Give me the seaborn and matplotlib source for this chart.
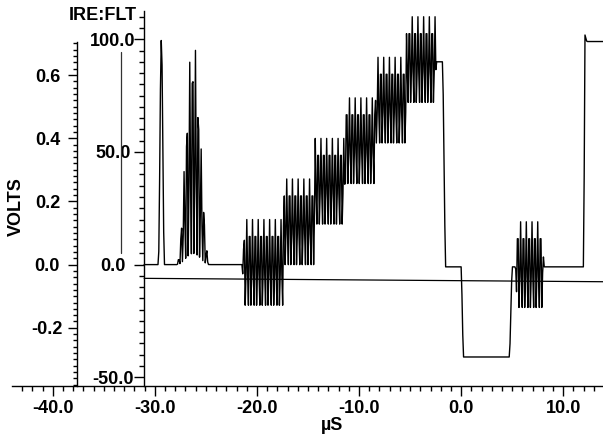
import numpy as np
import pandas as pd
import matplotlib
matplotlib.use('Agg')
import matplotlib.pyplot as plt
import seaborn as sns
from matplotlib.ticker import FixedLocator, FormatStrFormatter

sns.set_theme(style='white')
plt.rcParams['font.family'] = ['Liberation Sans', 'DejaVu Sans']
plt.rcParams['font.weight'] = 'bold'
plt.rcParams['text.color'] = 'black'
plt.rcParams['axes.unicode_minus'] = False

# ---------------- data (time in µs, level in IRE) ----------------
# luminance knots of the trace
luma_t = [-31.05, -17.43, -17.33, -14.41, -14.31, -11.44, -11.34, -8.42, -8.32,
          -5.41, -5.31, -1.80, -1.55, 0.02, 0.20, 4.75, 4.98, 12.00, 12.12, 12.30, 13.89]
luma_v = [0, 0, 18, 18, 36, 36, 54, 54, 72,
          72, 90, 90, -1, -1, -41, -41, -1, -1, 102, 99, 99]
# chroma (3.58 MHz subcarrier) amplitude knots
chroma_t = [-31.05, -21.45, -21.20, -2.50, -2.40, 5.30, 5.50, 7.90, 8.10, 13.89]
chroma_a = [0, 0, 20, 20, 0, 0, 20, 20, 0, 0]
# 2T pulse and modulated 12.5T pulse
pulse_center = [-29.36, -26.25]
pulse_had = [0.30, 1.60]
pulse_amp = [100, 100]
pulse_modulated = [False, True]
# horizontal reference trace and cursor line
ref_t = [-31.05, 13.89]
ref_v = [-6.1, -7.6]
cursor_t = [-33.33, -33.33]
cursor_v = [94.3, 5.1]

x_ticks = [-40, -30, -20, -10, 0, 10]
ire_ticks = [-50, 0, 50, 100]
volt_ticks = [-0.2, 0.0, 0.2, 0.4, 0.6]
VOLT_PER_IRE = 0.007131
FSC = 3.58            # subcarrier, MHz
FS = FSC * 3.5        # scope sample rate, samples per µs

# ---------------- build trace ----------------
t = np.arange(luma_t[0], luma_t[-1], 1.0 / FS)
y = np.interp(t, luma_t, luma_v)
ca = np.interp(t, chroma_t, chroma_a)
carrier = np.cos(2 * np.pi * FSC * (t - luma_t[0]))
y = y + ca * carrier
for c, h, a, m in zip(pulse_center, pulse_had, pulse_amp, pulse_modulated):
    d = t - c
    env = np.where(np.abs(d) < h, a * np.cos(np.pi * d / (2 * h)) ** 2, 0.0)
    if m:
        y = y + env / 2 * (1 + carrier)
    else:
        y = y + env
trace = pd.DataFrame({'t': t, 'ire': y})

# ---------------- figure ----------------
W, H = 603, 437
fig = plt.figure(figsize=(W / 100, H / 100), dpi=100)
ylim = ((264.6 - 386) / 2.2533, (264.6 - 11) / 2.2533)
xlim = (-43.99, 13.89)
ax = fig.add_axes([12 / W, 51 / H, 591 / W, 375 / H])
ax.set_xlim(*xlim)
ax.set_ylim(*ylim)
ax.patch.set_alpha(0)

sns.lineplot(data=trace, x='t', y='ire', ax=ax, color='black', lw=1.0,
             estimator=None, sort=False)
sns.lineplot(x=ref_t, y=ref_v, ax=ax, color='black', lw=0.9, estimator=None, sort=False)
sns.lineplot(x=cursor_t, y=cursor_v, ax=ax, color='#333333', lw=0.9, estimator=None, sort=False)

for s in ['top', 'right']:
    ax.spines[s].set_visible(False)
for s in ['left', 'bottom']:
    ax.spines[s].set_color('black')
    ax.spines[s].set_linewidth(1.0)
ax.spines['left'].set_position(('data', -31.05))

ax.xaxis.set_major_locator(FixedLocator(x_ticks))
ax.xaxis.set_minor_locator(FixedLocator(np.arange(-44, 14, 1)))
ax.xaxis.set_major_formatter(FormatStrFormatter('%.1f'))
ax.yaxis.set_major_locator(FixedLocator(ire_ticks))
ax.yaxis.set_minor_locator(FixedLocator(np.arange(-50, 115, 5)))
ax.yaxis.set_major_formatter(FormatStrFormatter('%.1f'))
ax.tick_params(which='major', direction='out', length=7, width=1, color='black',
               labelsize=13, labelcolor='black', left=True, bottom=True)
ax.tick_params(which='minor', direction='out', length=3.5, width=1, color='black',
               left=True, bottom=True)
ax.tick_params(axis='x', which='major', pad=3)
ax.tick_params(axis='y', which='major', pad=15.5)
for lb in ax.get_yticklabels():
    lb.set_horizontalalignment('center')
    lb.set_fontweight('bold')
for lb in ax.get_xticklabels():
    lb.set_fontweight('bold')
ax.set_xlabel('')
ax.set_ylabel('')
ax.grid(False)

# volts axis
ax2 = fig.add_axes([77 / W, 51 / H, 0.0001, 375 / H])
ax2.set_ylim(ylim[0] * VOLT_PER_IRE, ylim[1] * VOLT_PER_IRE)
ax2.patch.set_alpha(0)
for s in ['top', 'right', 'bottom']:
    ax2.spines[s].set_visible(False)
ax2.spines['left'].set_color('black')
ax2.spines['left'].set_linewidth(1.0)
ax2.spines['left'].set_bounds(ylim[0] * VOLT_PER_IRE, 0.705)
ax2.set_xticks([])
ax2.yaxis.set_major_locator(FixedLocator(volt_ticks))
ax2.yaxis.set_minor_locator(FixedLocator(np.arange(-0.38, 0.705, 0.02)))
ax2.yaxis.set_major_formatter(FormatStrFormatter('%.1f'))
ax2.tick_params(which='major', direction='out', length=6.5, width=1, color='black',
                labelsize=13, labelcolor='black', left=True, pad=14.8)
ax2.tick_params(which='minor', direction='out', length=3, width=1, color='black', left=True)
for lb in ax2.get_yticklabels():
    lb.set_horizontalalignment('center')
    lb.set_fontweight('bold')
ax2.grid(False)

fig.text(137 / W, 1 - 15.5 / H, 'IRE:FLT', ha='right', va='center', fontsize=13,
         fontweight='bold', color='black')
fig.text(16.5 / W, 1 - 207 / H, 'VOLTS', rotation=90, ha='center', va='center', fontsize=13,
         fontweight='bold', color='black')
fig.text(332 / W, 1 - 425 / H, 'µS', ha='center', va='center', fontsize=13,
         fontweight='bold', color='black')

fig.savefig('out.png', dpi=100)
